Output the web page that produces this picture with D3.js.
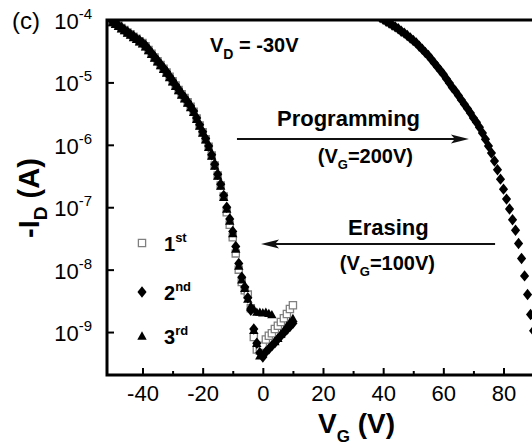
<!DOCTYPE html>
<html>
<head>
<meta charset="utf-8">
<title>Transfer curves</title>
<style>
  body { margin: 0; background: #fff; }
  svg { display: block; font-family: Arial, "Liberation Sans", Helvetica, sans-serif; }
  .axis path { display: none; }
  .axis line { stroke: #000; stroke-width: 2; }
  .frame { stroke: #000; stroke-width: 3; fill: none; }
  .lbl { font-weight: bold; fill: #000; }
</style>
</head>
<body>
<svg width="532" height="448"></svg>
<script src="https://cdn.jsdelivr.net/npm/d3@7/dist/d3.min.js"></script>
<script>

// erased-state sweeps, gate voltage (V)
var vgErase = [-50,-49,-48,-47,-46,-45,-44,-43,-42,-41,
  -40,-39,-38,-37,-36,-35,-34,-33,-32,-31,
  -30,-29,-28,-27,-26,-25,-24,-23,-22,-21,
  -20,-19,-18,-17,-16,-15,-14,-13,-12,-11,
  -10,-9,-8,-7,-6,-5,-4,-3,-2,-1,
  0,1,2,3,4,5,6,7,8,9,10];

// log10(-I_D / A) for each sweep
var first = [-4.03,-4.06,-4.09,-4.13,-4.16,-4.20,-4.23,-4.27,-4.30,-4.34,
  -4.37,-4.42,-4.48,-4.54,-4.60,-4.66,-4.72,-4.78,-4.84,-4.91,
  -4.98,-5.05,-5.12,-5.19,-5.25,-5.32,-5.39,-5.47,-5.58,-5.69,
  -5.80,-5.91,-6.03,-6.17,-6.33,-6.49,-6.65,-6.83,-7.08,-7.28,
  -7.48,-7.74,-8.00,-8.20,-8.33,-8.40,-8.62,-9.08,-9.28,-9.30,
  -9.22,-9.12,-9.06,-9.02,-8.95,-8.90,-8.84,-8.78,-8.71,-8.63,-8.57];

var second = [-4.02,-4.05,-4.09,-4.12,-4.16,-4.19,-4.23,-4.26,-4.30,-4.33,
  -4.37,-4.41,-4.47,-4.53,-4.59,-4.65,-4.71,-4.77,-4.83,-4.90,
  -4.97,-5.04,-5.11,-5.18,-5.24,-5.31,-5.38,-5.46,-5.57,-5.68,
  -5.79,-5.90,-6.02,-6.16,-6.31,-6.47,-6.63,-6.81,-7.00,-7.19,
  -7.39,-7.63,-7.90,-8.12,-8.28,-8.45,-8.65,-8.95,-9.18,-9.33,
  -9.40,-9.32,-9.27,-9.22,-9.17,-9.11,-9.06,-9.01,-8.96,-8.91,-8.86];

var third = [-4.04,-4.07,-4.10,-4.14,-4.17,-4.21,-4.24,-4.28,-4.31,-4.35,
  -4.38,-4.43,-4.49,-4.55,-4.61,-4.67,-4.73,-4.79,-4.85,-4.92,
  -4.99,-5.06,-5.13,-5.20,-5.26,-5.33,-5.40,-5.48,-5.59,-5.70,
  -5.81,-5.92,-6.04,-6.18,-6.34,-6.50,-6.66,-6.84,-7.03,-7.22,
  -7.42,-7.67,-7.94,-8.16,-8.30,-8.47,-8.58,-8.63,-8.68,-8.68,
  -8.69,-8.68,-8.70,-8.72,-9.15,-9.10,-9.03,-8.97,-8.90,-8.84,-8.78];

// a few low 3rd-sweep points near 0 V
var thirdLowVg = [-3, -2, -1];
var thirdLow = [-8.97, -9.18, -9.38];

// programmed-state sweep
var vgProg = [38,39,40,41,42,43,44,45,46,47,48,49,50,51,52,53,54,55,56,57,
  58,59,60,61,62,63,64,65,66,67,68,69,70,71,72,73,74,75,76,77,
  78,79,80,81,82,83,84,85,86,87,88,89,90];
var prog = [-3.93,-3.96,-3.99,-4.02,-4.05,-4.08,-4.11,-4.14,-4.18,-4.21,
  -4.25,-4.29,-4.33,-4.37,-4.42,-4.47,-4.52,-4.57,-4.63,-4.69,
  -4.75,-4.81,-4.87,-4.94,-5.01,-5.08,-5.14,-5.21,-5.28,-5.35,
  -5.42,-5.49,-5.57,-5.64,-5.72,-5.81,-5.91,-6.02,-6.13,-6.26,
  -6.40,-6.55,-6.71,-6.87,-7.03,-7.20,-7.37,-7.58,-7.82,-8.10,
  -8.40,-8.72,-8.98];

var xMajor = [-40, -20, 0, 20, 40, 60, 80];
var xMinor = [-30, -10, 10, 30, 50, 70, 90];
var yDecades = [-4, -5, -6, -7, -8, -9];
var legendNames = [["1", "st"], ["2", "nd"], ["3", "rd"]];

var svg = d3.select("svg");

var x = d3.scaleLinear().domain([-51.8, 91.8]).range([107, 539]);
var y = d3.scaleLog().domain([2.05e-10, 1e-4]).range([375, 20]);
function yl(l) { return y(Math.pow(10, l)); }

// marker shapes
var diamond = { draw: function(ctx, size) {
  var r = Math.sqrt(size) / 2;
  ctx.moveTo(0, -r * 1.25); ctx.lineTo(r, 0); ctx.lineTo(0, r * 1.25); ctx.lineTo(-r, 0); ctx.closePath();
}};
var triangle = { draw: function(ctx, size) {
  var r = Math.sqrt(size) / 2;
  ctx.moveTo(0, -r); ctx.lineTo(r, r * 0.8); ctx.lineTo(-r, r * 0.8); ctx.closePath();
}};
var square = { draw: function(ctx, size) {
  var r = Math.sqrt(size) / 2;
  ctx.rect(-r, -r, 2 * r, 2 * r);
}};

var styles = {
  sq: { path: d3.symbol(square, 52)(), fill: "#fff", stroke: "#808080", sw: 1.3 },
  di: { path: d3.symbol(diamond, 84)(), fill: "#000", stroke: "none", sw: 0 },
  tr: { path: d3.symbol(triangle, 88)(), fill: "#000", stroke: "none", sw: 0 }
};

svg.append("clipPath").attr("id", "plot")
  .append("rect").attr("x", 107).attr("y", 20).attr("width", 432).attr("height", 355);

var plot = svg.append("g").attr("clip-path", "url(#plot)");

function drawSeries(vg, vals, st) {
  plot.append("g").selectAll("path")
    .data(vals.map(function(v, i) { return [vg[i], v]; }))
    .enter().append("path")
    .attr("d", st.path)
    .attr("transform", function(d) { return "translate(" + x(d[0]) + "," + yl(d[1]) + ")"; })
    .attr("fill", st.fill)
    .attr("stroke", st.stroke)
    .attr("stroke-width", st.sw);
}

drawSeries(vgErase, first, styles.sq);
drawSeries(vgErase, second, styles.di);
drawSeries(vgErase, third, styles.tr);
drawSeries(thirdLowVg, thirdLow, styles.tr);
drawSeries(vgProg, prog, styles.di);

// axes: ticks point inward
svg.append("g").attr("class", "axis")
  .attr("transform", "translate(0,375)")
  .call(d3.axisBottom(x).tickValues(xMajor).tickSize(-7).tickPadding(10)
    .tickFormat(function(d) { return String(d); }))
  .selectAll("text")
  .attr("font-size", 22)
  .attr("font-family", "Arial, 'Liberation Sans', sans-serif")
  .attr("fill", "#000");

svg.append("g").attr("class", "axis")
  .attr("transform", "translate(0,375)")
  .call(d3.axisTop(x).tickValues(xMinor).tickSize(4).tickFormat(""));

svg.append("g").attr("class", "axis")
  .attr("transform", "translate(107,0)")
  .call(d3.axisRight(y).tickValues(yDecades.map(function(e) { return Math.pow(10, e); }))
    .tickSize(7).tickFormat(""));

// frame
svg.append("path").attr("class", "frame")
  .attr("d", "M" + x.range()[1] + "," + y.range()[1] + "H" + x.range()[0] + "V" + y.range()[0] + "H" + x.range()[1]);

// y tick labels with exponents
var yt = svg.append("g").selectAll("text")
  .data(yDecades).enter().append("text")
  .attr("x", 92)
  .attr("y", function(e) { return yl(e) + 9; })
  .attr("text-anchor", "end")
  .attr("fill", "#000");
yt.append("tspan").attr("font-size", 22).text("10");
yt.append("tspan").attr("font-size", 15).attr("dy", -10).text(function(e) { return String(e); });

// panel letter
svg.append("text").attr("x", 12).attr("y", 29).attr("font-size", 24).text("(c)");

// axis titles
var xt = svg.append("text").attr("class", "lbl").attr("x", 318).attr("y", 433).attr("font-size", 28);
xt.append("tspan").text("V");
xt.append("tspan").attr("font-size", 17).attr("dy", 9).text("G");
xt.append("tspan").attr("dy", -9).text(" (V)");

var ytl = svg.append("text").attr("class", "lbl")
  .attr("transform", "translate(39,198) rotate(-90)")
  .attr("text-anchor", "middle").attr("font-size", 29);
ytl.append("tspan").text("-I");
ytl.append("tspan").attr("font-size", 19).attr("dy", 8).text("D");
ytl.append("tspan").attr("dy", -8).text(" (A)");

// annotations
var vd = svg.append("text").attr("class", "lbl").attr("x", 210).attr("y", 52).attr("font-size", 20);
vd.append("tspan").text("V");
vd.append("tspan").attr("font-size", 14).attr("dy", 7).text("D");
vd.append("tspan").attr("dy", -7).text(" = -30V");

svg.append("text").attr("class", "lbl").attr("x", 277).attr("y", 126).attr("font-size", 22).text("Programming");
var p2 = svg.append("text").attr("class", "lbl").attr("x", 413).attr("y", 163)
  .attr("text-anchor", "end").attr("font-size", 20);
p2.append("tspan").text("(V");
p2.append("tspan").attr("font-size", 13).attr("dy", 6).text("G");
p2.append("tspan").attr("dy", -6).text("=200V)");

svg.append("text").attr("class", "lbl").attr("x", 348).attr("y", 235).attr("font-size", 22).text("Erasing");
var e2 = svg.append("text").attr("class", "lbl").attr("x", 435).attr("y", 270)
  .attr("text-anchor", "end").attr("font-size", 20);
e2.append("tspan").text("(V");
e2.append("tspan").attr("font-size", 13).attr("dy", 6).text("G");
e2.append("tspan").attr("dy", -6).text("=100V)");

function arrow(v0, v1, i) {
  var x0 = x(v0), x1 = x(v1), yy = y(i), dir = x1 > x0 ? 1 : -1;
  svg.append("line").attr("x1", x0).attr("x2", x1 - dir * 10).attr("y1", yy).attr("y2", yy)
    .attr("stroke", "#111").attr("stroke-width", 2);
  svg.append("path")
    .attr("d", "M" + x1 + "," + yy + "L" + (x1 - dir * 18) + "," + (yy - 4.5) + "L" + (x1 - dir * 14) + "," + yy +
      "L" + (x1 - dir * 18) + "," + (yy + 4.5) + "Z")
    .attr("fill", "#111");
}
arrow(-8.6, 68.5, 1.24e-6);
arrow(77.2, -0.6, 2.57e-8);

// legend
var legY = [243, 292, 336];
var legSt = [styles.sq, styles.di, styles.tr];
legendNames.forEach(function(n, i) {
  svg.append("path").attr("d", legSt[i].path)
    .attr("transform", "translate(142," + legY[i] + ")")
    .attr("fill", legSt[i].fill).attr("stroke", legSt[i].stroke).attr("stroke-width", legSt[i].sw);
  var t = svg.append("text").attr("class", "lbl").attr("x", 164).attr("y", legY[i] + 8).attr("font-size", 20);
  t.append("tspan").text(n[0]);
  t.append("tspan").attr("font-size", 13).attr("dy", -9).text(n[1]);
});

</script>
</body>
</html>
